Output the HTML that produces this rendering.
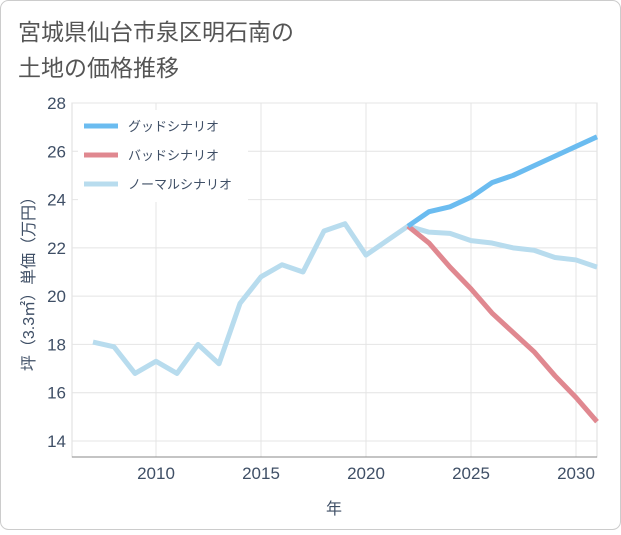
<!DOCTYPE html>
<html><head><meta charset="utf-8"><style>
body{margin:0;background:#fff;font-family:"Liberation Sans","Noto Sans CJK JP",sans-serif;}
#wrap{position:relative;width:621px;height:530px;}
</style></head><body>
<div id="wrap">
<svg id="svg" width="621" height="530">
<rect x="0.5" y="0.5" width="620" height="529" rx="8" fill="#fff" stroke="#ccc"/>
<text x="18" y="40" font-size="23" fill="#555">宮城県仙台市泉区明石南の</text>
<text x="18" y="76" font-size="23" fill="#555">土地の価格推移</text>
<g id="grid"></g>
<g id="series"></g>
<text x="334" y="514" font-size="16" fill="#3f4f66" text-anchor="middle">年</text>
<text transform="translate(34,280) rotate(-90)" font-size="16" fill="#3f4f66" text-anchor="middle">坪（3.3㎡）単価（万円）</text>
<g id="legend"></g>
</svg></div>
<script>
const years=[2007,2008,2009,2010,2011,2012,2013,2014,2015,2016,2017,2018,2019,2020,2021,2022,2023,2024,2025,2026,2027,2028,2029,2030,2031];
const normalVals=[18.1,17.9,16.8,17.3,16.8,18.0,17.2,19.7,20.8,21.3,21.0,22.7,23.0,21.7,22.3,22.9,22.65,22.6,22.3,22.2,22.0,21.9,21.6,21.5,21.2];
const futureYears=[2022,2023,2024,2025,2026,2027,2028,2029,2030,2031];
const goodVals=[22.9,23.5,23.7,24.1,24.7,25.0,25.4,25.8,26.2,26.6];
const badVals=[22.9,22.2,21.2,20.3,19.3,18.5,17.7,16.7,15.8,14.8];
const yTicks=[14,16,18,20,22,24,26,28];
const xTicks=[2010,2015,2020,2025,2030];
const legendLabels=["グッドシナリオ","バッドシナリオ","ノーマルシナリオ"];
const colors=["#6bbcf0","#e08890","#b8dcee"];
const L=72,R=597,T=103,B=457;
const x=v=>L+(v-2006)*(R-L)/25;
const y=v=>441-(v-14)*(441-103)/14;
const NS="http://www.w3.org/2000/svg";
function mk(tag,attrs,parent,txt){const e=document.createElementNS(NS,tag);for(const k in attrs)e.setAttribute(k,attrs[k]);if(txt!==undefined)e.textContent=txt;parent.appendChild(e);return e;}
const g=document.getElementById('grid');
mk('rect',{x:L,y:T,width:R-L,height:B-T,fill:'none',stroke:'#ddd'},g);
yTicks.forEach(t=>{const l=mk('line',{x1:L,x2:R,y1:y(t),y2:y(t),stroke:'#e4e4e4'},g);

const tx=mk('text',{x:L-6,y:y(t)+6,'font-size':17,fill:'#3f4f66','text-anchor':'end'},g,t);
});
xTicks.forEach(t=>{const l=mk('line',{x1:x(t),x2:x(t),y1:T,y2:B,stroke:'#e4e4e4'},g);

const tx=mk('text',{x:x(t),y:B+22,'font-size':17,fill:'#3f4f66','text-anchor':'middle'},g,t);
});
mk('line',{x1:L,x2:R,y1:B,y2:B,stroke:'#888'},g);
const s=document.getElementById('series');
function line(xs,vs,c,name){const p=mk('polyline',{points:xs.map((v,i)=>x(v)+','+y(vs[i])).join(' '),fill:'none',stroke:c,'stroke-width':5,'stroke-linejoin':'round'},s);
}
line(years,normalVals,colors[2],'normal-line');
line(futureYears,badVals,colors[1],'bad-line');
line(futureYears,goodVals,colors[0],'good-line');
const lg=document.getElementById('legend');
mk('rect',{x:78,y:110,width:170,height:92,fill:'#fff'},lg);
legendLabels.forEach((t,i)=>{const yy=126+i*29;
const l=mk('line',{x1:84,x2:118,y1:yy,y2:yy,stroke:colors[i],'stroke-width':5},lg);

const tx=mk('text',{x:128,y:yy+5,'font-size':13,fill:'#3f4f66'},lg,t);
});
</script></body></html>
